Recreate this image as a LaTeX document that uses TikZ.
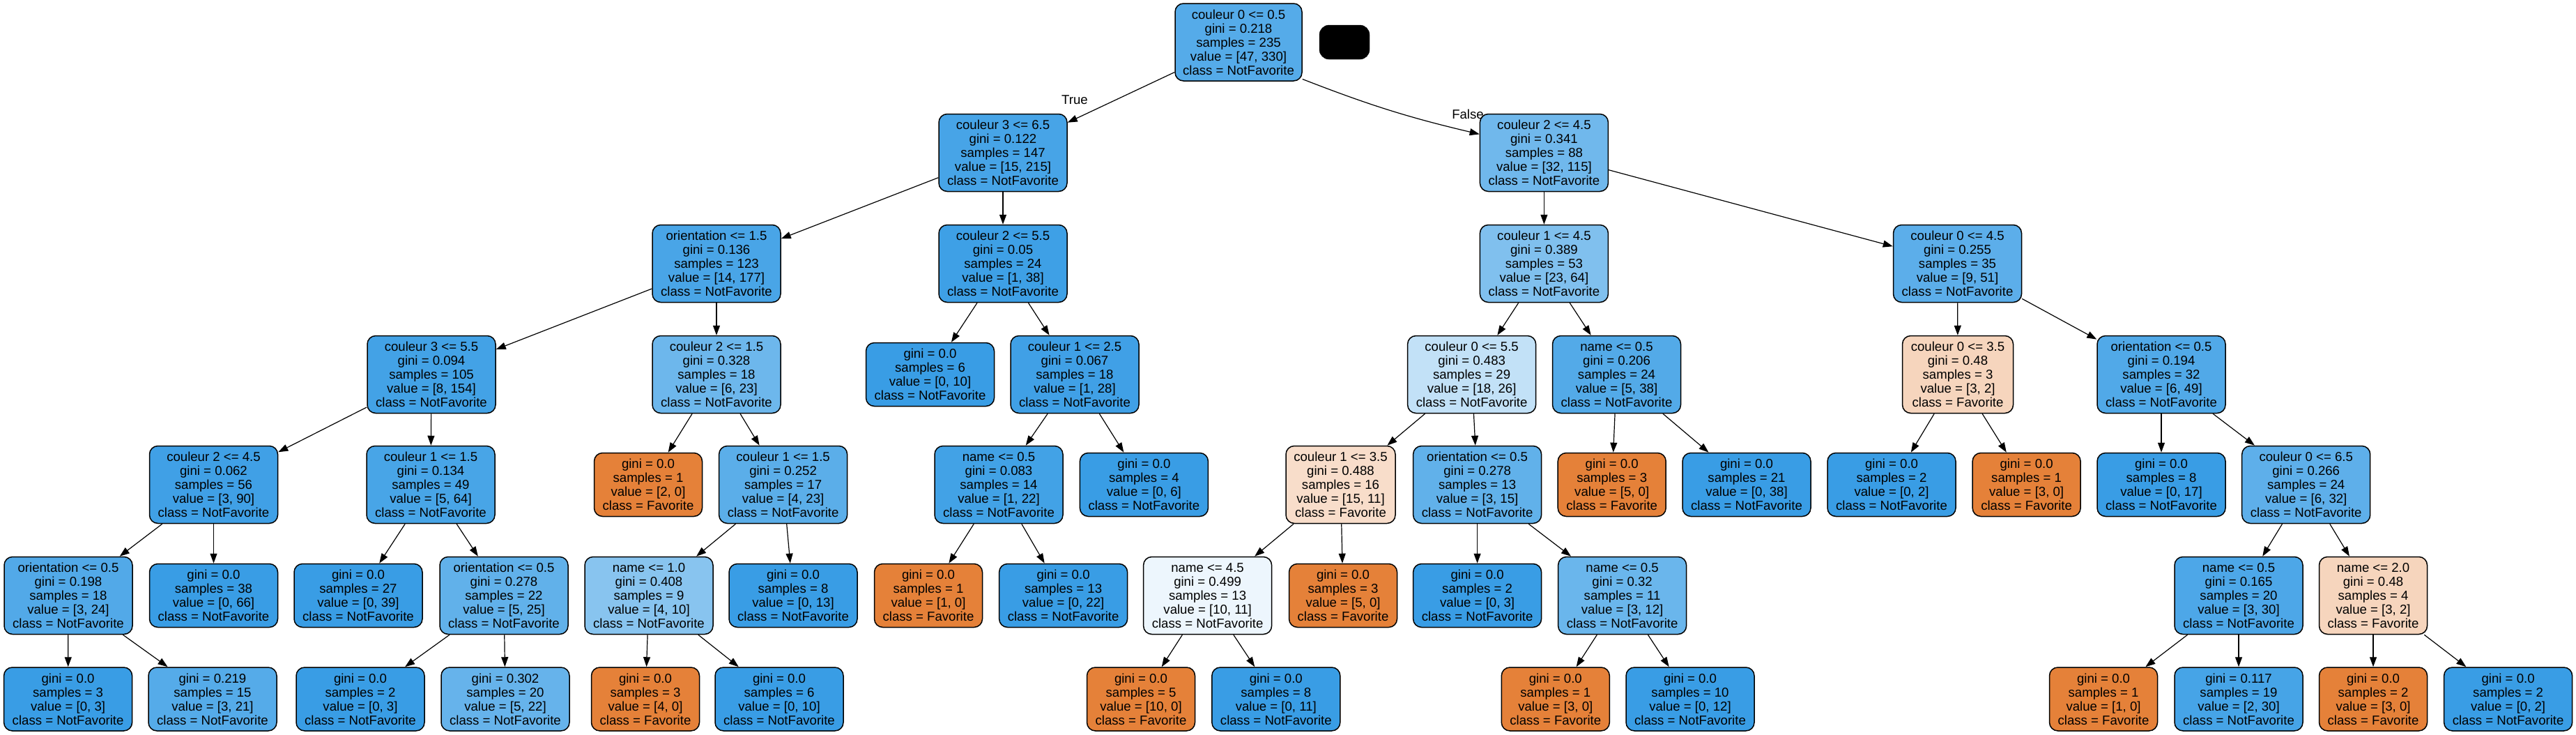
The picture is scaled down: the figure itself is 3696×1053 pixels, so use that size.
\documentclass[tikz,border=0pt]{standalone}
\usepackage{fontspec}
\setmainfont{Liberation Sans}
\usetikzlibrary{arrows.meta}
\definecolor{cblue}{RGB}{57,157,229}
\definecolor{corange}{RGB}{229,129,57}
\tikzset{
  tn/.style={draw=black, line width=1.5pt, rounded corners=12pt, align=center, inner sep=0pt,
             font=\fontsize{18.6}{20}\selectfont, text=black},
  fivel/.style={tn, minimum width=184pt, minimum height=111pt},
  fourl/.style={tn, minimum width=184pt, minimum height=91pt},
  favleaf/.style={tn, minimum width=155pt, minimum height=91pt, fill=corange},
  nfleaf/.style={fourl, fill=cblue},
  edge/.style={draw=black, line width=1.2pt, -{Triangle[length=14pt,width=10pt]}},
  elabel/.style={font=\fontsize{18.6}{20}\selectfont, text=black, inner sep=0pt}
}
\begin{document}
\begin{tikzpicture}[x=1pt,y=-1pt]
\useasboundingbox (0,0) rectangle (3696,1053);
% rank 0
\node[fivel, minimum width=182pt, fill={rgb,255:red,85;green,171;blue,233}] (n0) at (1777,60.5) {couleur 0 <= 0.5\\gini = 0.218\\samples = 235\\value = [47, 330]\\class = NotFavorite};
\node[draw=black, fill=black, rounded corners=14pt, minimum width=72pt, minimum height=49pt, inner sep=0pt] (blk) at (1929,60.5) {};
% rank 1
\node[fivel, fill={rgb,255:red,71;green,164;blue,231}] (n1) at (1439,219) {couleur 3 <= 6.5\\gini = 0.122\\samples = 147\\value = [15, 215]\\class = NotFavorite};
\node[fivel, fill={rgb,255:red,112;green,184;blue,236}] (n2) at (2215.4,219) {couleur 2 <= 4.5\\gini = 0.341\\samples = 88\\value = [32, 115]\\class = NotFavorite};
% rank 2
\node[fivel, fill={rgb,255:red,73;green,165;blue,231}] (n3) at (1028,378) {orientation <= 1.5\\gini = 0.136\\samples = 123\\value = [14, 177]\\class = NotFavorite};
\node[fivel, fill={rgb,255:red,62;green,160;blue,230}] (n4) at (1439,378) {couleur 2 <= 5.5\\gini = 0.05\\samples = 24\\value = [1, 38]\\class = NotFavorite};
\node[fivel, fill={rgb,255:red,128;green,192;blue,238}] (n5) at (2215.4,378) {couleur 1 <= 4.5\\gini = 0.389\\samples = 53\\value = [23, 64]\\class = NotFavorite};
\node[fivel, fill={rgb,255:red,92;green,174;blue,234}] (n6) at (2808.5,378) {couleur 0 <= 4.5\\gini = 0.255\\samples = 35\\value = [9, 51]\\class = NotFavorite};
% rank 3
\node[fivel, fill={rgb,255:red,67;green,162;blue,230}] (n7) at (619,537) {couleur 3 <= 5.5\\gini = 0.094\\samples = 105\\value = [8, 154]\\class = NotFavorite};
\node[fivel, fill={rgb,255:red,109;green,183;blue,236}] (n8) at (1028,537) {couleur 2 <= 1.5\\gini = 0.328\\samples = 18\\value = [6, 23]\\class = NotFavorite};
\node[nfleaf] (n9) at (1334.5,537) {gini = 0.0\\samples = 6\\value = [0, 10]\\class = NotFavorite};
\node[fivel, fill={rgb,255:red,64;green,160;blue,230}] (n10) at (1542,537) {couleur 1 <= 2.5\\gini = 0.067\\samples = 18\\value = [1, 28]\\class = NotFavorite};
\node[fivel, fill={rgb,255:red,194;green,225;blue,247}] (n11) at (2111.6,537) {couleur 0 <= 5.5\\gini = 0.483\\samples = 29\\value = [18, 26]\\class = NotFavorite};
\node[fivel, fill={rgb,255:red,83;green,170;blue,232}] (n12) at (2319.5,537) {name <= 0.5\\gini = 0.206\\samples = 24\\value = [5, 38]\\class = NotFavorite};
\node[fivel, minimum width=159pt, fill={rgb,255:red,246;green,213;blue,189}] (n13) at (2809,537) {couleur 0 <= 3.5\\gini = 0.48\\samples = 3\\value = [3, 2]\\class = Favorite};
\node[fivel, fill={rgb,255:red,81;green,169;blue,232}] (n14) at (3101,537) {orientation <= 0.5\\gini = 0.194\\samples = 32\\value = [6, 49]\\class = NotFavorite};
% rank 4
\node[fivel, fill={rgb,255:red,64;green,160;blue,230}] (n15) at (306.5,695) {couleur 2 <= 4.5\\gini = 0.062\\samples = 56\\value = [3, 90]\\class = NotFavorite};
\node[fivel, fill={rgb,255:red,72;green,165;blue,231}] (n16) at (618,695) {couleur 1 <= 1.5\\gini = 0.134\\samples = 49\\value = [5, 64]\\class = NotFavorite};
\node[favleaf] (n17) at (930,695) {gini = 0.0\\samples = 1\\value = [2, 0]\\class = Favorite};
\node[fivel, fill={rgb,255:red,91;green,174;blue,233}] (n18) at (1123.6,695) {couleur 1 <= 1.5\\gini = 0.252\\samples = 17\\value = [4, 23]\\class = NotFavorite};
\node[fivel, fill={rgb,255:red,66;green,162;blue,230}] (n19) at (1433,695) {name <= 0.5\\gini = 0.083\\samples = 14\\value = [1, 22]\\class = NotFavorite};
\node[nfleaf] (n20) at (1641.4,695) {gini = 0.0\\samples = 4\\value = [0, 6]\\class = NotFavorite};
\node[fivel, minimum width=157pt, fill={rgb,255:red,248;green,221;blue,202}] (n21) at (1923.5,695) {couleur 1 <= 3.5\\gini = 0.488\\samples = 16\\value = [15, 11]\\class = Favorite};
\node[fivel, fill={rgb,255:red,97;green,177;blue,234}] (n22) at (2119.6,695) {orientation <= 0.5\\gini = 0.278\\samples = 13\\value = [3, 15]\\class = NotFavorite};
\node[favleaf] (n23) at (2312.7,695) {gini = 0.0\\samples = 3\\value = [5, 0]\\class = Favorite};
\node[nfleaf] (n24) at (2506,695) {gini = 0.0\\samples = 21\\value = [0, 38]\\class = NotFavorite};
\node[nfleaf] (n25) at (2714,695) {gini = 0.0\\samples = 2\\value = [0, 2]\\class = NotFavorite};
\node[favleaf] (n26) at (2907.6,695) {gini = 0.0\\samples = 1\\value = [3, 0]\\class = Favorite};
\node[nfleaf] (n27) at (3101,695) {gini = 0.0\\samples = 8\\value = [0, 17]\\class = NotFavorite};
\node[fivel, fill={rgb,255:red,94;green,175;blue,234}] (n28) at (3308.7,695) {couleur 0 <= 6.5\\gini = 0.266\\samples = 24\\value = [6, 32]\\class = NotFavorite};
% rank 5
\node[fivel, fill={rgb,255:red,82;green,169;blue,232}] (n29) at (98,854) {orientation <= 0.5\\gini = 0.198\\samples = 18\\value = [3, 24]\\class = NotFavorite};
\node[nfleaf] (n30) at (306.5,854) {gini = 0.0\\samples = 38\\value = [0, 66]\\class = NotFavorite};
\node[nfleaf] (n31) at (514,854) {gini = 0.0\\samples = 27\\value = [0, 39]\\class = NotFavorite};
\node[fivel, fill={rgb,255:red,97;green,177;blue,234}] (n32) at (723,854) {orientation <= 0.5\\gini = 0.278\\samples = 22\\value = [5, 25]\\class = NotFavorite};
\node[fivel, fill={rgb,255:red,136;green,196;blue,239}] (n33) at (931,854) {name <= 1.0\\gini = 0.408\\samples = 9\\value = [4, 10]\\class = NotFavorite};
\node[nfleaf] (n34) at (1138,854) {gini = 0.0\\samples = 8\\value = [0, 13]\\class = NotFavorite};
\node[favleaf] (n35) at (1332,854) {gini = 0.0\\samples = 1\\value = [1, 0]\\class = Favorite};
\node[nfleaf] (n36) at (1525.6,854) {gini = 0.0\\samples = 13\\value = [0, 22]\\class = NotFavorite};
\node[fivel, fill={rgb,255:red,237;green,246;blue,253}] (n37) at (1732.6,854) {name <= 4.5\\gini = 0.499\\samples = 13\\value = [10, 11]\\class = NotFavorite};
\node[favleaf] (n38) at (1927,854) {gini = 0.0\\samples = 3\\value = [5, 0]\\class = Favorite};
\node[nfleaf] (n39) at (2119.6,854) {gini = 0.0\\samples = 2\\value = [0, 3]\\class = NotFavorite};
\node[fivel, fill={rgb,255:red,106;green,182;blue,236}] (n40) at (2327.6,854) {name <= 0.5\\gini = 0.32\\samples = 11\\value = [3, 12]\\class = NotFavorite};
\node[fivel, fill={rgb,255:red,77;green,167;blue,232}] (n41) at (3212,854) {name <= 0.5\\gini = 0.165\\samples = 20\\value = [3, 30]\\class = NotFavorite};
\node[fivel, minimum width=155pt, fill={rgb,255:red,246;green,213;blue,189}] (n42) at (3405,854) {name <= 2.0\\gini = 0.48\\samples = 4\\value = [3, 2]\\class = Favorite};
% rank 6
\node[nfleaf] (n43) at (97.6,1002.5) {gini = 0.0\\samples = 3\\value = [0, 3]\\class = NotFavorite};
\node[fourl, fill={rgb,255:red,85;green,171;blue,233}] (n44) at (305,1002.5) {gini = 0.219\\samples = 15\\value = [3, 21]\\class = NotFavorite};
\node[nfleaf] (n45) at (517,1002.5) {gini = 0.0\\samples = 2\\value = [0, 3]\\class = NotFavorite};
\node[fourl, fill={rgb,255:red,102;green,179;blue,235}] (n46) at (725,1002.5) {gini = 0.302\\samples = 20\\value = [5, 22]\\class = NotFavorite};
\node[favleaf] (n47) at (926,1002.5) {gini = 0.0\\samples = 3\\value = [4, 0]\\class = Favorite};
\node[nfleaf] (n48) at (1118,1002.5) {gini = 0.0\\samples = 6\\value = [0, 10]\\class = NotFavorite};
\node[favleaf] (n49) at (1637,1002.5) {gini = 0.0\\samples = 5\\value = [10, 0]\\class = Favorite};
\node[nfleaf] (n50) at (1830.8,1002.5) {gini = 0.0\\samples = 8\\value = [0, 11]\\class = NotFavorite};
\node[favleaf] (n51) at (2231.8,1002.5) {gini = 0.0\\samples = 1\\value = [3, 0]\\class = Favorite};
\node[nfleaf] (n52) at (2425,1002.5) {gini = 0.0\\samples = 10\\value = [0, 12]\\class = NotFavorite};
\node[favleaf] (n53) at (3018,1002.5) {gini = 0.0\\samples = 1\\value = [1, 0]\\class = Favorite};
\node[fourl, fill={rgb,255:red,70;green,164;blue,231}] (n54) at (3212,1002.5) {gini = 0.117\\samples = 19\\value = [2, 30]\\class = NotFavorite};
\node[favleaf] (n55) at (3405,1002.5) {gini = 0.0\\samples = 2\\value = [3, 0]\\class = Favorite};
\node[nfleaf] (n56) at (3598.6,1002.5) {gini = 0.0\\samples = 2\\value = [0, 2]\\class = NotFavorite};
% edges
\draw[edge] (n0) -- (n1);
\draw[edge] (n0.-30) to[bend right=4] (n2.164);
\node[elabel] (tlab) at (1542,143) {True};
\node[elabel] (flab) at (2106,164) {False};
\foreach \p/\c in {1/3,1/4,2/5,2/6,3/7,3/8,4/9,4/10,5/11,5/12,6/13,6/14,
  7/15,7/16,8/17,8/18,10/19,10/20,11/21,11/22,12/23,12/24,13/25,13/26,14/27,14/28,
  15/29,15/30,16/31,16/32,18/33,18/34,19/35,19/36,21/37,21/38,22/39,22/40,28/41,28/42,
  29/43,29/44,32/45,32/46,33/47,33/48,37/49,37/50,40/51,40/52,41/53,41/54,42/55,42/56}
  {\draw[edge] (n\p) -- (n\c);}
\end{tikzpicture}
\end{document}
